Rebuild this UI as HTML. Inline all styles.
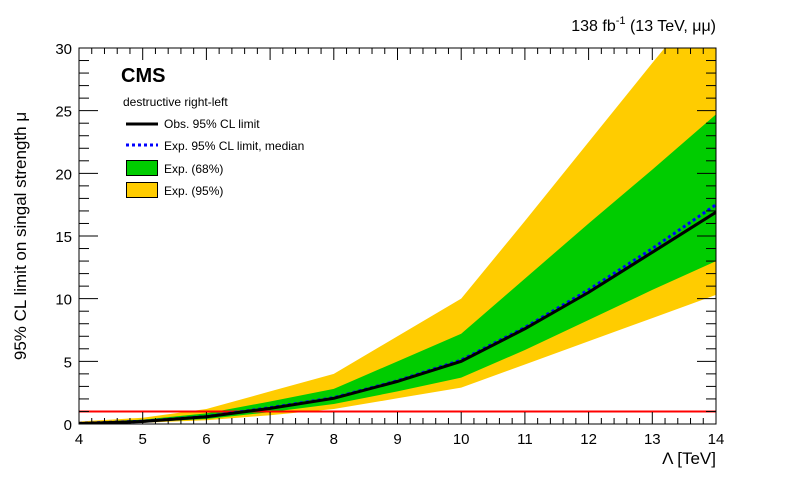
<!DOCTYPE html>
<html><head><meta charset="utf-8"><style>
body{margin:0;background:#fff;}
svg text{font-family:"Liberation Sans",sans-serif;}
</style></head><body>
<svg id="c" width="796" height="472" xmlns="http://www.w3.org/2000/svg"></svg>
<script>
const lambdas=[4,5,6,7,8,9,10,11,12,13,14];
const y95Up=[0.2,0.5,1.2,2.6,4.0,7.0,10.0,16.2,22.5,28.8,35.0];
const y68Up=[0.12,0.35,0.85,1.8,2.8,5.0,7.2,11.6,16.0,20.3,24.7];
const yMedian=[0.05,0.22,0.6,1.3,2.1,3.45,5.1,7.7,10.7,14.0,17.5];
const yObs=[0.04,0.2,0.58,1.25,2.05,3.4,5.0,7.6,10.5,13.7,16.9];
const y68Lo=[0.02,0.15,0.4,0.95,1.6,2.6,3.7,5.9,8.3,10.7,13.0];
const y95Lo=[0,0.1,0.3,0.7,1.2,2.05,2.9,4.75,6.6,8.45,10.3];
const xTicks=[4,5,6,7,8,9,10,11,12,13,14];
const yTicks=[0,5,10,15,20,25,30];
const NS="http://www.w3.org/2000/svg";
const svg=document.getElementById('c');
const X0=79,X1=716,Y0=424,Y1=48;
const sx=v=>X0+(v-4)/(14-4)*(X1-X0);
const sy=v=>Y0-(v-0)/30*(Y0-Y1);
function mk(t,a,p){const e=document.createElementNS(NS,t);for(const k in a)e.setAttribute(k,a[k]);(p||svg).appendChild(e);return e;}
const defs=mk('defs',{});const cp=mk('clipPath',{id:'pc'},defs);mk('rect',{x:X0,y:Y1,width:X1-X0,height:Y0-Y1},cp);
const g=mk('g',{'clip-path':'url(#pc)'});
function band(up,lo,col,name){let d='M'+lambdas.map((l,i)=>sx(l)+','+sy(up[i])).join('L');
for(let i=lambdas.length-1;i>=0;i--)d+='L'+sx(lambdas[i])+','+sy(lo[i]);
const e=mk('path',{d:d+'Z',fill:col},g);

}
band(y95Up,y95Lo,'#ffcc00','band-95');
band(y68Up,y68Lo,'#00cc00','band-68');
const ln=mk('line',{x1:X0,x2:X1,y1:sy(1),y2:sy(1),stroke:'#ff0000','stroke-width':2},g);


function line(v,st,w,da,name){const e=mk('polyline',{points:lambdas.map((l,i)=>sx(l)+','+sy(v[i])).join(' '),fill:'none',stroke:st,'stroke-width':w},g);if(da)e.setAttribute('stroke-dasharray',da);

}
line(yMedian,'#0000ff',3,'3,3','expected-median-line');
line(yObs,'#000',3,null,'observed-line');
mk('rect',{x:X0,y:Y1,width:X1-X0,height:Y0-Y1,fill:'none',stroke:'#000','stroke-width':1});
// x ticks
for(let v=4;v<=14.001;v+=0.2){const big=Math.abs(v-Math.round(v))<1e-6;const x=sx(v);
mk('line',{x1:x,x2:x,y1:Y0,y2:Y0-(big?12:6),stroke:'#000'});mk('line',{x1:x,x2:x,y1:Y1,y2:Y1+(big?12:6),stroke:'#000'});}
xTicks.forEach(v=>{const t=mk('text',{x:sx(v),y:444,'text-anchor':'middle','font-size':15});t.textContent=v;

});
for(let v=0;v<=30.001;v+=1){const big=v%5===0;const y=sy(v);
mk('line',{x1:X0,x2:X0+(big?19:10),y1:y,y2:y,stroke:'#000'});mk('line',{x1:X1,x2:X1-(big?19:10),y1:y,y2:y,stroke:'#000'});}
yTicks.forEach(v=>{const t=mk('text',{x:72,y:sy(v)+6,'text-anchor':'end','font-size':15});t.textContent=v;

});
</script>
<svg width="796" height="472" style="position:absolute;left:0;top:0" xmlns="http://www.w3.org/2000/svg">
<text x="716" y="464" text-anchor="end" font-size="17">Λ [TeV]</text>
<text transform="translate(26,236) rotate(-90)" text-anchor="middle" font-size="17">95% CL limit on singal strength μ</text>
<text x="716" y="31" text-anchor="end" font-size="16">138 fb<tspan font-size="11" dy="-7">-1</tspan><tspan dy="7"> (13 TeV,  μμ)</tspan></text>
<text x="121" y="82" font-size="20" font-weight="bold">CMS</text>
<text x="123" y="106" font-size="12">destructive right-left</text>
<line x1="126" x2="158" y1="124" y2="124" stroke="#000" stroke-width="3"/>
<text x="164" y="128" font-size="12">Obs. 95% CL limit</text>
<line x1="126" x2="158" y1="145" y2="145" stroke="#00f" stroke-width="3" stroke-dasharray="3,3"/>
<text x="164" y="150" font-size="12">Exp. 95% CL limit, median</text>
<rect x="126.5" y="160.5" width="31" height="15" fill="#00cc00" stroke="#000"/>
<text x="164" y="173" font-size="12">Exp. (68%)</text>
<rect x="126.5" y="182.5" width="31" height="15" fill="#ffcc00" stroke="#000"/>
<text x="164" y="195" font-size="12">Exp. (95%)</text>
</svg>
</body></html>
